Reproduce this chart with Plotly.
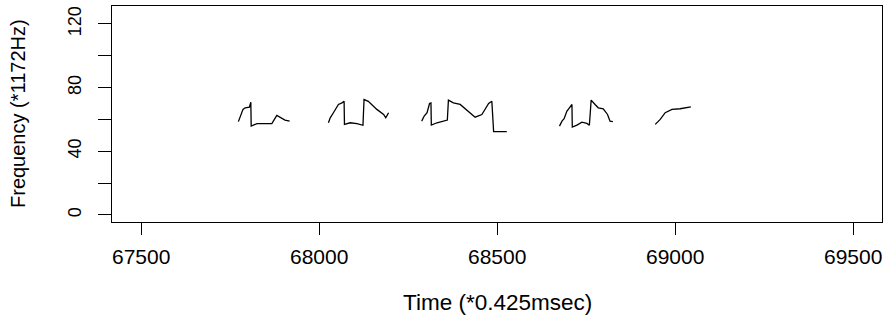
import plotly.graph_objects as go

# Pitch contour segments: time (in 0.425 ms units) and frequency (in 1172 Hz units)
seg1_t = [67773, 67786, 67792, 67804, 67808, 67809, 67825, 67867, 67881, 67895, 67904, 67917]
seg1_f = [58.6, 66.3, 67.3, 67.7, 70.8, 55.8, 57.3, 57.3, 62.5, 61.0, 59.6, 58.9]

seg2_t = [68026, 68031, 68040, 68054, 68064, 68070, 68071, 68087, 68106, 68123, 68126, 68138,
          68162, 68181, 68187, 68195]
seg2_f = [57.9, 61.0, 64.2, 69.4, 70.4, 71.4, 56.9, 57.9, 57.3, 56.3, 72.5, 71.4,
          66.3, 63.1, 61.0, 64.2]

seg3_t = [68288, 68295, 68303, 68310, 68314, 68315, 68331, 68345, 68360, 68363, 68377, 68396,
          68415, 68438, 68457, 68476, 68485, 68490, 68527]
seg3_f = [58.9, 62.1, 64.2, 70.0, 70.4, 56.4, 57.9, 58.9, 59.6, 72.1, 70.4, 69.4,
          65.8, 61.4, 63.1, 70.0, 71.4, 52.3, 52.3]

seg4_t = [68675, 68682, 68688, 68696, 68703, 68710, 68711, 68724, 68738, 68752, 68759, 68764,
          68775, 68784, 68798, 68810, 68817, 68825]
seg4_f = [55.8, 58.9, 60.4, 65.2, 67.3, 69.4, 55.2, 56.4, 58.3, 57.5, 56.3, 72.1,
          69.4, 67.3, 66.7, 63.1, 58.9, 58.6]

seg5_t = [68944, 68958, 68972, 68991, 69014, 69033, 69044]
seg5_f = [56.9, 60.0, 64.2, 66.3, 66.7, 67.5, 67.9]

segments = [(seg1_t, seg1_f), (seg2_t, seg2_f), (seg3_t, seg3_f),
            (seg4_t, seg4_f), (seg5_t, seg5_f)]

x_ticks = [67500, 68000, 68500, 69000, 69500]
y_ticks = [0, 20, 40, 60, 80, 100, 120]
y_labels = ["0", "", "40", "", "80", "", "120"]

FONT = "Liberation Sans, Arial, sans-serif"

fig = go.Figure()
for t, f in segments:
    fig.add_trace(go.Scatter(x=t, y=f, mode="lines",
                             line=dict(color="black", width=1.3),
                             showlegend=False, hoverinfo="skip"))

fig.update_layout(
    width=888, height=324,
    margin=dict(l=112, r=6, t=6, b=102),
    paper_bgcolor="white", plot_bgcolor="white",
    font=dict(family=FONT, color="black"),
    xaxis=dict(
        range=[67418, 69581], tickvals=x_ticks,
        ticktext=[str(v) for v in x_ticks],
        ticks="outside", ticklen=12, tickwidth=1, tickcolor="black",
        showline=True, linecolor="black", linewidth=1, mirror=True,
        showgrid=False, zeroline=False,
        tickfont=dict(size=21, family=FONT, color="black"),
        ticklabelstandoff=4,
    ),
    yaxis=dict(
        range=[-4.5, 131.3], tickvals=y_ticks, ticktext=y_labels,
        ticks="outside", ticklen=13, tickwidth=1, tickcolor="black",
        showline=True, linecolor="black", linewidth=1, mirror=True,
        showgrid=False, zeroline=False, tickangle=-90,
        tickfont=dict(size=18, family=FONT, color="black"),
        ticklabelstandoff=10,
    ),
    annotations=[
        dict(text="Time (*0.425msec)", xref="paper", yref="paper",
             x=0.5, y=0, yshift=-80, xanchor="center", yanchor="middle",
             showarrow=False, font=dict(size=22.5, family=FONT, color="black")),
        dict(text="Frequency (*1172Hz)", xref="paper", yref="paper",
             x=0, y=0.5, xshift=-94, xanchor="center", yanchor="middle",
             textangle=-90, showarrow=False,
             font=dict(size=20, family=FONT, color="black")),
    ],
)

fig.write_html("out.html")
